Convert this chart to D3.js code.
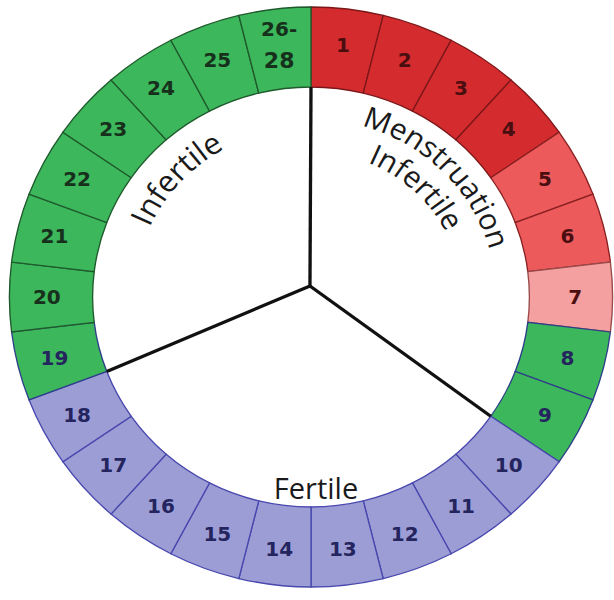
<!DOCTYPE html>
<html>
<head>
<meta charset="utf-8">
<script src="https://cdn.jsdelivr.net/npm/d3@7"></script>
<style>
html,body{margin:0;padding:0;background:#fff;}
svg{display:block;}
</style>
</head>
<body>
<svg id="chart" width="614" height="600"></svg>
<script>
// ---- data ----
const dayLabels = ["1","2","3","4","5","6","7","8","9","10","11","12","13","14","15","16","17","18","19","20","21","22","23","24","25","26-28"];
const dayGroups = ["heavy","heavy","heavy","heavy","medium","medium","light","greenB","greenB",
  "fertile","fertile","fertile","fertile","fertile","fertile","fertile","fertile","fertile",
  "greenB","green","green","green","green","green","green","green"];
const phaseNames = ["Menstruation", "Infertile", "Fertile", "Infertile"];
const phaseBoundaries = [0, 9, 18]; // segment index where spokes sit

// ---- styles ----
const fillOf = {heavy:"#d42c2e", medium:"#ec5a5b", light:"#f4a0a0", green:"#3cb75b", greenB:"#3cb75b", fertile:"#9c9dd5"};
const strokeOf = {heavy:"#7c1618", medium:"#8a2022", light:"#9a4a4a", green:"#1f5a2c", greenB:"#2e3f8a", fertile:"#4848ae"};
const textOf = {heavy:"#4a0e10", medium:"#4a0e10", light:"#4a0e10", green:"#16301c", greenB:"#24245e", fertile:"#24245e"};

const svg = d3.select("#chart");
const cx = 311, cy = 297, sx = 1.04;
const rOuter = 290, rInner = 210, rLabel = 254;
const n = dayLabels.length;
const angle = d3.scaleLinear().domain([0, n]).range([0, 2 * Math.PI]);

const g = svg.append("g").attr("transform", `translate(${cx},${cy}) scale(${sx},1)`);
const arc = d3.arc().innerRadius(rInner).outerRadius(rOuter);

const segs = dayLabels.map((d, i) => ({label: d, group: dayGroups[i], startAngle: angle(i), endAngle: angle(i + 1)}));

g.selectAll("path.seg").data(segs).join("path")
  .attr("class", "seg")
  .attr("d", arc)
  .attr("fill", d => fillOf[d.group])
  .attr("stroke", d => strokeOf[d.group])
  .attr("stroke-width", 1.3);

// day labels (upright)
const lab = svg.append("g").attr("transform", `translate(${cx},${cy})`);
segs.forEach(d => {
  const a = (d.startAngle + d.endAngle) / 2;
  const x = Math.sin(a) * rLabel * sx, y = -Math.cos(a) * rLabel;
  const t = lab.append("text")
    .attr("x", x).attr("y", y)
    .attr("text-anchor", "middle")
    .attr("font-family", "'DejaVu Sans', Verdana, sans-serif")
    .attr("font-weight", "bold")
    .attr("font-size", 20)
    .attr("fill", textOf[d.group]);
  if (d.label.includes("-")) {
    const parts = d.label.split("-");
    t.append("tspan").attr("x", x).attr("y", y - 9).text(parts[0] + "-");
    t.append("tspan").attr("x", x).attr("y", y + 23).attr("font-size", 22).text(parts[1]);
  } else {
    t.attr("y", y + 7).text(d.label);
  }
});

// spokes
const hub = [-1, -11];
g.selectAll("line.spoke").data(phaseBoundaries).join("line")
  .attr("class", "spoke")
  .attr("x1", hub[0]).attr("y1", hub[1])
  .attr("x2", i => Math.sin(angle(i)) * rInner)
  .attr("y2", i => -Math.cos(angle(i)) * rInner)
  .attr("stroke", "#111")
  .attr("stroke-width", 3.2);

// curved phase labels
const defs = svg.append("defs");
function arcPath(id, r, a0, a1) {
  const p = d3.path();
  p.arc(0, 0, r, a0 - Math.PI / 2, a1 - Math.PI / 2, false);
  defs.append("path").attr("id", id).attr("d", p.toString());
}
const deg = Math.PI / 180;
arcPath("pMen", 178, -30 * deg, 130 * deg);
arcPath("pInf1", 145, -30 * deg, 120 * deg);
arcPath("pInf2", 170, -130 * deg, 40 * deg);

const tg = svg.append("g").attr("transform", `translate(${cx},${cy}) scale(${sx},1)`);
const font = "'Open Sans', 'Noto Sans', sans-serif";
function curved(id, txt, offsetPct, size) {
  tg.append("text")
    .attr("font-family", font).attr("font-size", size).attr("fill", "#1a1a1a")
    .append("textPath").attr("href", "#" + id)
    .attr("startOffset", offsetPct).attr("text-anchor", "middle")
    .text(txt);
}
curved("pMen", phaseNames[0], "47%", 29);
curved("pInf1", phaseNames[1], "48.5%", 29);
curved("pInf2", phaseNames[3], "48.5%", 30);

svg.append("text")
  .attr("x", 316).attr("y", 499)
  .attr("text-anchor", "middle")
  .attr("font-family", font).attr("font-size", 29).attr("fill", "#1a1a1a")
  .text(phaseNames[2]);
</script>
</body>
</html>
